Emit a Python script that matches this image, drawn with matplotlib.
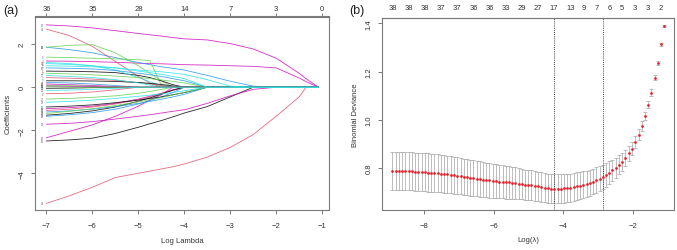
import matplotlib
matplotlib.use("Agg")
import matplotlib.pyplot as plt
import numpy as np

plt.rcParams['font.family'] = ['Liberation Sans', 'DejaVu Sans']

# ---------------- Panel (a): LASSO coefficient paths ----------------
path_loglambda = [-7.0, -6.5, -6.0, -5.5, -5.0, -4.75, -4.5, -4.25, -4.0, -3.5, -3.0, -2.5, -2.0, -1.5, -1.35, -1.08]

K, R, Gc, B, C, M = '#000000', '#DF536B', '#61D04F', '#2297E6', '#28E2E5', '#CD0BBC'

paths = [
    # (label, colour, values)
    ("12", M, [2.90, 2.85, 2.76, 2.63, 2.50, 2.44, 2.38, 2.31, 2.25, 2.20, 2.03, 1.78, 1.35, 0.65, 0.40, 0.0]),
    ("4", M, [1.22, 1.21, 1.19, 1.16, 1.12, 1.10, 1.09, 1.07, 1.05, 1.03, 1.00, 0.97, 0.90, 0.43, 0.26, 0.0]),
    ("34", R, [-5.40, -5.05, -4.65, -4.20, -4.00, -3.90, -3.80, -3.70, -3.57, -3.25, -2.80, -2.20, -1.35, -0.45, 0.0, 0.0]),
    ("15", K, [-2.50, -2.45, -2.37, -2.15, -1.86, -1.70, -1.55, -1.38, -1.20, -0.90, -0.45, 0, 0, 0, 0, 0]),
    ("28", M, [-1.72, -1.68, -1.60, -1.48, -1.35, -1.28, -1.20, -1.12, -1.05, -0.75, -0.40, -0.10, 0, 0, 0, 0]),
    ("26", B, [1.86, 1.75, 1.60, 1.38, 1.15, 1.05, 0.95, 0.88, 0.80, 0.55, 0.28, 0.05, 0, 0, 0, 0]),
    ("21", R, [2.70, 2.40, 1.90, 1.20, 0.50, 0.20, 0, 0, 0, 0, 0, 0, 0, 0, 0, 0]),
    ("19", Gc, [1.86, 1.95, 1.98, 1.60, 1.00, 0.65, 0.30, 0, 0, 0, 0, 0, 0, 0, 0, 0]),
    ("9", Gc, [1.40, 1.38, 1.35, 1.32, 1.28, 1.24, 0.10, 0, 0, 0, 0, 0, 0, 0, 0, 0]),
    ("16", M, [-2.35, -2.05, -1.75, -1.35, -0.88, -0.60, -0.35, 0, 0, 0, 0, 0, 0, 0, 0, 0]),
    ("1", K, [0.75, 0.74, 0.72, 0.68, 0.55, 0.45, 0.30, 0.12, 0, 0, 0, 0, 0, 0, 0, 0]),
    ("11", C, [1.15, 1.10, 1.00, 0.80, 0.45, 0.25, 0.08, 0, 0, 0, 0, 0, 0, 0, 0, 0]),
    ("2", R, [0.45, 0.42, 0.38, 0.32, 0.22, 0.15, 0.08, 0, 0, 0, 0, 0, 0, 0, 0, 0]),
    ("7", K, [0.30, 0.30, 0.29, 0.27, 0.22, 0.18, 0.13, 0.06, 0, 0, 0, 0, 0, 0, 0, 0]),
    ("18", M, [-1.00, -0.95, -0.88, -0.75, -0.55, -0.42, -0.28, -0.12, 0, 0, 0, 0, 0, 0, 0, 0]),
    ("20", R, [-1.08, -1.02, -0.92, -0.78, -0.58, -0.45, -0.30, -0.14, 0, 0, 0, 0, 0, 0, 0, 0]),
    ("25", K, [-1.30, -1.22, -1.10, -0.92, -0.65, -0.50, -0.32, -0.14, 0, 0, 0, 0, 0, 0, 0, 0]),
    ("22", B, [-1.35, -1.28, -1.18, -1.02, -0.78, -0.62, -0.45, -0.25, 0, 0, 0, 0, 0, 0, 0, 0]),
    ("17", C, [0.55, 0.50, 0.45, 0.35, 0.20, 0.10, 0, 0, 0, 0, 0, 0, 0, 0, 0, 0]),
    ("27", Gc, [-0.55, -0.52, -0.47, -0.40, -0.28, -0.20, -0.10, 0, 0, 0, 0, 0, 0, 0, 0, 0]),
    ("10", B, [0.90, 0.88, 0.85, 0.78, 0.65, 0.58, 0.50, 0.40, 0.30, 0, 0, 0, 0, 0, 0, 0]),
    ("3", Gc, [0.65, 0.62, 0.58, 0.52, 0.45, 0.40, 0.34, 0.27, 0.20, 0, 0, 0, 0, 0, 0, 0]),
    ("13", K, [-0.92, -0.88, -0.82, -0.72, -0.60, -0.52, -0.45, -0.35, -0.25, 0, 0, 0, 0, 0, 0, 0]),
    ("14", B, [-1.15, -1.10, -1.02, -0.90, -0.75, -0.66, -0.56, -0.45, -0.33, 0, 0, 0, 0, 0, 0, 0]),
    ("31", Gc, [-1.22, -1.12, -1.00, -0.85, -0.68, -0.58, -0.48, -0.36, -0.24, 0, 0, 0, 0, 0, 0, 0]),
    ("23", C, [-0.70, -0.66, -0.60, -0.52, -0.42, -0.37, -0.31, -0.24, -0.16, 0, 0, 0, 0, 0, 0, 0]),
    ("24", B, [0.22, 0.20, 0.15, 0.08, 0, 0, 0, 0, 0, 0, 0, 0, 0, 0, 0, 0]),
    ("30", M, [0.15, 0.12, 0.08, 0.03, 0, 0, 0, 0, 0, 0, 0, 0, 0, 0, 0, 0]),
    ("33", Gc, [0.08, 0.07, 0.05, 0.02, 0, 0, 0, 0, 0, 0, 0, 0, 0, 0, 0, 0]),
    ("35", K, [-0.05, -0.04, -0.02, -0.01, 0, 0, 0, 0, 0, 0, 0, 0, 0, 0, 0, 0]),
    ("6", R, [-0.30, -0.28, -0.22, -0.12, 0, 0, 0, 0, 0, 0, 0, 0, 0, 0, 0, 0]),
    ("36", M, [0.05, 0.04, 0.03, 0.01, 0, 0, 0, 0, 0, 0, 0, 0, 0, 0, 0, 0]),
    ("37", Gc, [0.02, 0.0, 0, 0, 0, 0, 0, 0, 0, 0, 0, 0, 0, 0, 0, 0]),
    ("5", C, [1.00, 0.98, 0.95, 0.90, 0.80, 0.76, 0.72, 0.66, 0.60, 0.35, 0.05, 0, 0, 0, 0, 0]),
    ("8", C, [1.10, 1.06, 1.00, 0.90, 0.75, 0.68, 0.60, 0.50, 0.40, 0, 0, 0, 0, 0, 0, 0]),
    ("29", C, [-0.15, -0.13, -0.10, -0.05, 0, 0, 0, 0, 0, 0, 0, 0, 0, 0, 0, 0]),
]

top_a_ticks = [-7, -6, -5, -4, -3, -2, -1]
top_a_labels = ["36", "35", "28", "14", "7", "3", "0"]

# ---------------- Panel (b): cross-validation deviance ----------------
log_lambda = [-8.92, -8.83, -8.73, -8.64, -8.55, -8.45, -8.36, -8.27, -8.18, -8.08,
              -7.99, -7.90, -7.80, -7.71, -7.62, -7.52, -7.43, -7.34, -7.24, -7.15,
              -7.06, -6.96, -6.87, -6.78, -6.69, -6.59, -6.50, -6.41, -6.31, -6.22,
              -6.13, -6.03, -5.94, -5.85, -5.75, -5.66, -5.57, -5.48, -5.38, -5.29,
              -5.20, -5.10, -5.01, -4.92, -4.82, -4.73, -4.64, -4.54, -4.45, -4.36,
              -4.27, -4.17, -4.08, -3.99, -3.89, -3.80, -3.71, -3.61, -3.52, -3.43,
              -3.33, -3.24, -3.15, -3.05, -2.96, -2.87, -2.77, -2.68, -2.59, -2.50,
              -2.40, -2.31, -2.22, -2.12, -2.03, -1.94, -1.84, -1.75, -1.66, -1.57,
              -1.47, -1.38, -1.29, -1.19, -1.10]
deviance = [0.789, 0.789, 0.789, 0.788, 0.788, 0.787, 0.787, 0.786, 0.785, 0.784,
            0.783, 0.782, 0.781, 0.780, 0.779, 0.777, 0.776, 0.774, 0.773, 0.771,
            0.769, 0.767, 0.765, 0.763, 0.761, 0.759, 0.757, 0.755, 0.753, 0.751,
            0.750, 0.748, 0.747, 0.745, 0.744, 0.742, 0.741, 0.739, 0.738, 0.736,
            0.734, 0.732, 0.731, 0.729, 0.727, 0.725, 0.722, 0.720, 0.718, 0.716,
            0.715, 0.715, 0.716, 0.717, 0.718, 0.720, 0.722, 0.725, 0.728, 0.731,
            0.735, 0.740, 0.745, 0.751, 0.757, 0.764, 0.772, 0.782, 0.792, 0.802,
            0.814, 0.826, 0.843, 0.862, 0.881, 0.909, 0.939, 0.975, 1.015, 1.063,
            1.113, 1.175, 1.237, 1.313, 1.390]
dev_se = [0.079, 0.079, 0.079, 0.079, 0.079, 0.079, 0.079, 0.079, 0.079, 0.079,
          0.079, 0.079, 0.078, 0.078, 0.078, 0.077, 0.077, 0.077, 0.076, 0.076,
          0.076, 0.075, 0.075, 0.074, 0.074, 0.074, 0.073, 0.073, 0.072, 0.072,
          0.072, 0.071, 0.071, 0.070, 0.069, 0.068, 0.067, 0.066, 0.065, 0.064,
          0.063, 0.062, 0.062, 0.062, 0.061, 0.061, 0.061, 0.060, 0.060, 0.060,
          0.060, 0.060, 0.059, 0.059, 0.059, 0.058, 0.058, 0.058, 0.057, 0.056,
          0.055, 0.054, 0.053, 0.052, 0.051, 0.050, 0.048, 0.046, 0.044, 0.042,
          0.040, 0.037, 0.034, 0.031, 0.028, 0.025, 0.022, 0.019, 0.017, 0.015,
          0.013, 0.011, 0.009, 0.007, 0.005]
lambda_min_idx = 50
lambda_1se_idx = 65
nz_label_idx = [0, 5, 10, 15, 20, 25, 30, 35, 40, 45, 50, 55, 59, 63, 67, 71, 75, 79, 83]
nz_labels = ["38", "38", "38", "37", "37", "36", "36", "33", "29", "27",
             "17", "13", "9", "7", "6", "5", "3", "3", "2"]

# ---------------- Figure ----------------
W, H = 677, 251
fig = plt.figure(figsize=(W / 100, H / 100), dpi=100)
fig.patch.set_facecolor('white')

spine_col = '#7a7a7a'
txt_col = '#333333'
fs_tick = 5.5


def style_axes(ax):
    for s in ax.spines.values():
        s.set_color(spine_col)
        s.set_linewidth(0.8)
    ax.tick_params(axis='x', which='both', direction='out', length=3.2, width=0.7,
                   color=spine_col, labelsize=fs_tick, labelcolor=txt_col, pad=5.5)
    ax.tick_params(axis='y', which='both', direction='out', length=3.2, width=0.7,
                   color=spine_col, labelsize=fs_tick, labelcolor=txt_col, pad=3.5)
    for lab in ax.get_yticklabels():
        lab.set_rotation(90)
        lab.set_va('center')


axL = fig.add_axes([35 / W, 1 - 211 / H, (329 - 35) / W, (211 - 17.5) / H])
for lab, col, vals in paths:
    axL.plot(path_loglambda, vals, color=col, lw=0.6, alpha=0.85)
    axL.text(path_loglambda[0] - 0.06, vals[0], lab, fontsize=2.0, color='#666666',
             ha='right', va='center')
axL.set_xlim(-7.25, -0.85)
axL.set_ylim(-5.71, 3.29)
axL.set_xticks([-7, -6, -5, -4, -3, -2, -1])
axL.set_yticks([-4, -2, 0, 2])
axL.set_xlabel("Log Lambda", fontsize=fs_tick, color=txt_col, labelpad=6)
axL.set_ylabel("Coefficients", fontsize=fs_tick, color=txt_col, labelpad=5)
style_axes(axL)
secL = axL.secondary_xaxis('top')
secL.set_xticks(top_a_ticks, top_a_labels)
secL.tick_params(direction='out', length=2.5, width=0.7, color=spine_col,
                 labelsize=fs_tick, labelcolor=txt_col, pad=1.0)
secL.spines['top'].set_color(spine_col)

axR = fig.add_axes([382 / W, 1 - 211 / H, (674 - 382) / W, (211 - 19) / H])
axR.errorbar(log_lambda, deviance, yerr=dev_se, fmt='none', ecolor='#ababab',
             elinewidth=0.55, capsize=1.4, capthick=0.55, zorder=2)
axR.plot(log_lambda, deviance, 'o', ms=2.0, color='#E3262E', mec='none', zorder=3)
axR.axvline(log_lambda[lambda_min_idx], color='#444444', lw=0.7, ls=(0, (1, 1.2)))
axR.axvline(log_lambda[lambda_1se_idx], color='#444444', lw=0.7, ls=(0, (1, 1.2)))
axR.set_xlim(-9.22, -0.82)
axR.set_ylim(0.627, 1.422)
axR.set_xticks([-8, -6, -4, -2])
axR.set_yticks([0.8, 1.0, 1.2, 1.4], ["0.8", "1.0", "1.2", "1.4"])
axR.set_xlabel("Log(\u03bb)", fontsize=fs_tick, color=txt_col, labelpad=5)
axR.set_ylabel("Binomial Deviance", fontsize=fs_tick, color=txt_col, labelpad=5)
style_axes(axR)
secR = axR.secondary_xaxis('top')
secR.set_xticks([log_lambda[i] for i in nz_label_idx], nz_labels)
secR.tick_params(length=0, labelsize=fs_tick, labelcolor=txt_col, pad=5)
secR.spines['top'].set_color(spine_col)

fig.text(3 / W, 1 - 11 / H, "(a)", fontsize=9, color='#222222', va='center', ha='left')
fig.text(349 / W, 1 - 11 / H, "(b)", fontsize=9, color='#222222', va='center', ha='left')

fig.savefig("out.png", dpi=100, facecolor='white')
